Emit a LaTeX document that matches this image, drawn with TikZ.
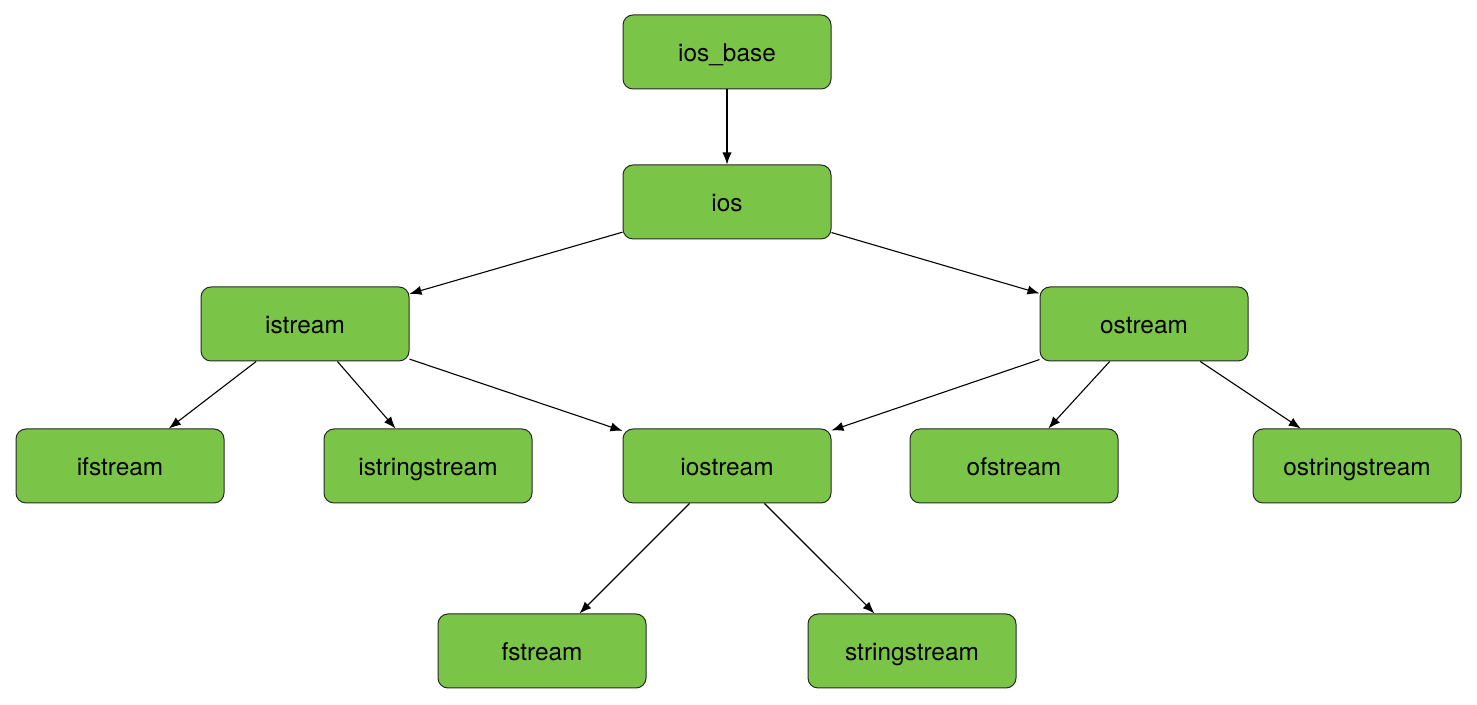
\documentclass[tikz,border=0pt]{standalone}
\usepackage{fontspec}
\setmainfont{TeX Gyre Heros}
\usetikzlibrary{arrows.meta}

\begin{document}
\begin{tikzpicture}[x=1pt,y=1pt,
  cls/.style={draw=borderColor,line width=0.5pt,fill=boxColor,rounded corners=5pt,
    minimum width=104pt,minimum height=37pt,inner sep=0pt,
    text height=11pt,text depth=1pt,
    font=\fontsize{12.2}{14}\selectfont},
  inh/.style={draw=black,line width=0.55pt,-{Latex[length=6pt,width=4.6pt]}}]
\definecolor{boxColor}{RGB}{122,197,71}
\definecolor{borderColor}{RGB}{40,40,40}
\path[use as bounding box,fill=white] (0,0) rectangle (738.5,352.5);

\node[cls] (iosbase) at (363.5,326.5) {ios\_base};
\node[cls] (ios) at (363.5,251.5) {ios};

\node[cls] (istream) at (152.5,190.5) {istream};
\node[cls] (ostream) at (572.0,190.5) {ostream};

\node[cls] (ifstream) at ( 60.0,119.5) {ifstream};
\node[cls] (istringstream) at (214.0,119.5) {istringstream};
\node[cls] (iostream) at (363.5,119.5) {iostream};
\node[cls] (ofstream) at (507.0,119.5) {ofstream};
\node[cls] (ostringstream) at (678.5,119.5) {ostringstream};

\node[cls] (fstream) at (271.0, 27.0) {fstream};
\node[cls] (stringstream) at (456.0, 27.0) {stringstream};

\draw[inh] (iosbase) -- (ios);
\draw[inh] (ios) -- (istream);
\draw[inh] (ios) -- (ostream);
\draw[inh] (istream) -- (ifstream);
\draw[inh] (istream) -- (istringstream);
\draw[inh] (istream) -- (iostream);
\draw[inh] (ostream) -- (iostream);
\draw[inh] (ostream) -- (ofstream);
\draw[inh] (ostream) -- (ostringstream);
\draw[inh] (iostream) -- (fstream);
\draw[inh] (iostream) -- (stringstream);
\end{tikzpicture}
\end{document}
